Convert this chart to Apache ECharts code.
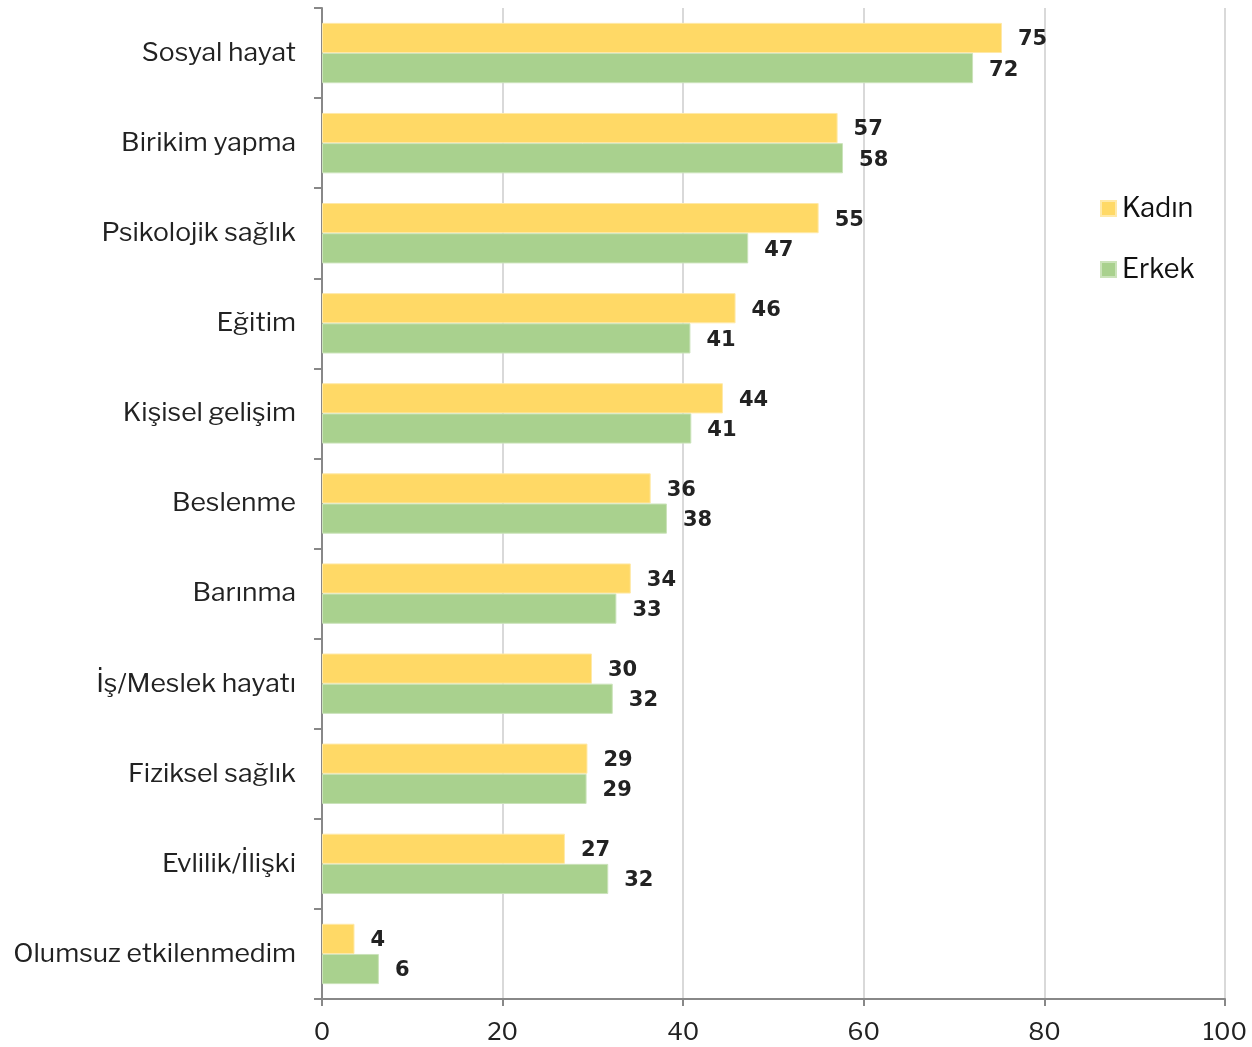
<!DOCTYPE html>
<html><head><meta charset="utf-8">
<script src="https://cdn.jsdelivr.net/npm/echarts@6/dist/echarts.min.js"></script>
<style>html,body{margin:0;padding:0;background:#fff}#c{width:1252px;height:1047px}</style>
</head><body><div id="c"></div>
<script>
const categories = ["Sosyal hayat","Birikim yapma","Psikolojik sağlık","Eğitim","Kişisel gelişim","Beslenme","Barınma","İş/Meslek hayatı","Fiziksel sağlık","Evlilik/İlişki","Olumsuz etkilenmedim"];
const kadin = [75.3,57.1,55.0,45.8,44.4,36.4,34.2,29.9,29.4,26.9,3.6];
const erkek = [72.1,57.7,47.2,40.8,40.9,38.2,32.6,32.2,29.3,31.7,6.3];
const xTicks = [0,20,40,60,80,100];

const chart = echarts.init(document.getElementById('c'));
const font = "'Libre Franklin','Open Sans','Liberation Sans',sans-serif";
const lbl = {show:true, position:'right', distance:16, offset:[0,2], formatter:p=>Math.round(p.value),
  color:'#222', fontWeight:'900', fontSize:21, fontFamily:"'DejaVu Sans',sans-serif"};
chart.setOption({
  animation:false,
  grid:{left:322, right:27, top:8, bottom:48, containLabel:false},
  legend:{orient:'vertical', left:1095, top:190, itemGap:34, itemWidth:15, itemHeight:15,
    icon:'rect', textStyle:{fontSize:27, color:'#111', fontFamily:font, padding:[0,0,0,1]},
    data:['Kadın','Erkek']},
  xAxis:{type:'value', min:0, max:100, interval:20,
    axisLine:{show:true, lineStyle:{color:'#888', width:2}},
    axisTick:{show:true, length:7, lineStyle:{color:'#888', width:2}},
    splitLine:{lineStyle:{color:'#d9d9d9', width:2}},
    axisLabel:{fontSize:24, color:'#222', margin:22, fontFamily:font,
      formatter:v=>xTicks.includes(v)?String(v):''}},
  yAxis:{type:'category', inverse:true, data:categories,
    axisLine:{lineStyle:{color:'#888', width:2}},
    axisTick:{show:true, length:8, lineStyle:{color:'#888', width:2}},
    axisLabel:{fontSize:26.5, color:'#222', margin:26, fontFamily:font}},
  series:[
    {name:'Kadın', type:'bar', data:kadin, barGap:'0%', barCategoryGap:'33%',
     itemStyle:{color:'#FFD966', borderColor:'#FFE9A8', borderWidth:1}, label:lbl},
    {name:'Erkek', type:'bar', data:erkek,
     itemStyle:{color:'#A9D18E', borderColor:'#CBE3BA', borderWidth:1}, label:lbl}
  ]
});
</script></body></html>
